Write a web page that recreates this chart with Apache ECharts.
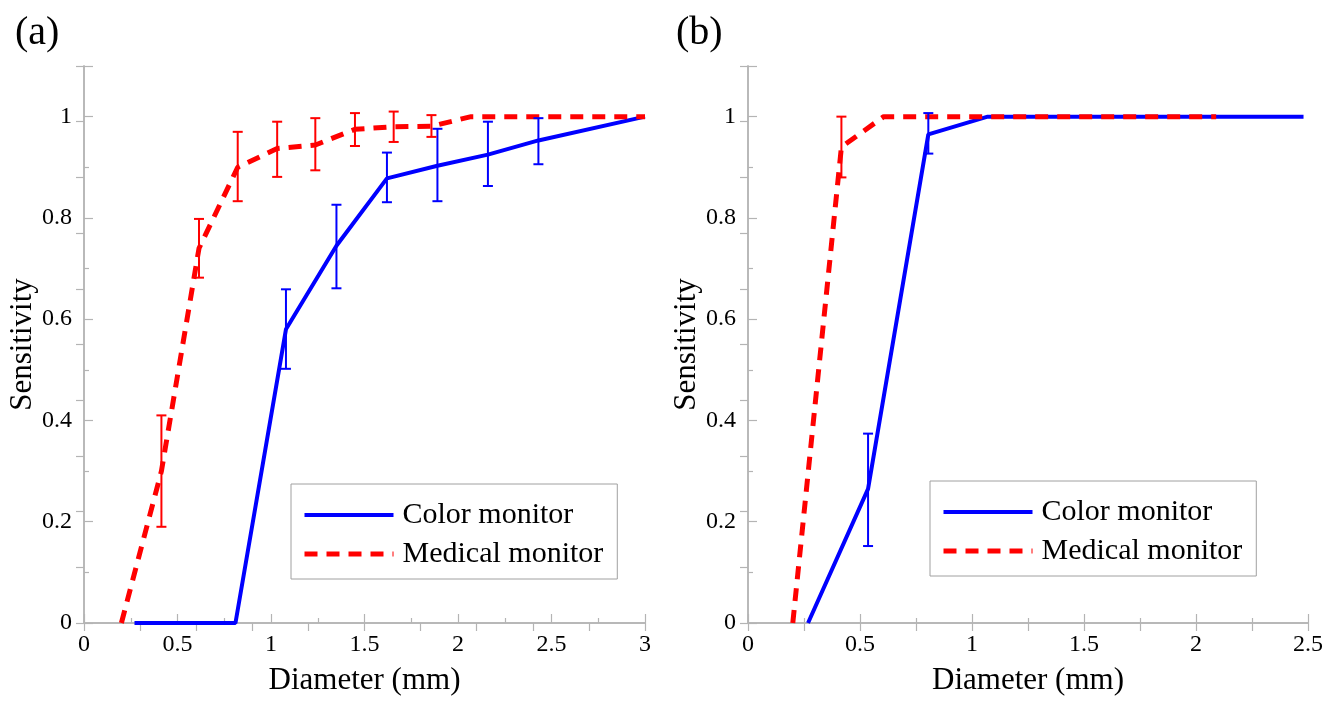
<!DOCTYPE html>
<html>
<head>
<meta charset="utf-8">
<script src="https://cdn.jsdelivr.net/npm/echarts@6/dist/echarts.min.js"></script>
<style>
html,body{margin:0;padding:0;background:#fff;}
#chart{width:1335px;height:701px;}
</style>
</head>
<body>
<div id="chart"></div>
<script>
// ---------- Data ----------
const seriesNames = ['Color monitor', 'Medical monitor'];
const panelLabels = ['(a)', '(b)'];

// Panel (a)
const colorA_x   = [0.27, 0.54, 0.81, 1.08, 1.35, 1.62, 1.89, 2.16, 2.43, 3.0];
const colorA_y   = [0, 0, 0, 0.58, 0.745, 0.878, 0.903, 0.925, 0.953, 1.0];
const colorA_lo  = [null, null, null, 0.502, 0.661, 0.831, 0.833, 0.863, 0.906, null];
const colorA_hi  = [null, null, null, 0.659, 0.826, 0.929, 0.976, 0.990, 0.997, null];

const medA_x  = [0.2, 0.414, 0.615, 0.822, 1.033, 1.237, 1.449, 1.656, 1.858, 2.07, 2.28, 2.48, 2.69, 2.9, 3.0];
const medA_y  = [0, 0.30, 0.74, 0.90, 0.937, 0.944, 0.975, 0.98, 0.981, 1, 1, 1, 1, 1, 1];
const medA_lo = [null, 0.19, 0.682, 0.833, 0.881, 0.894, 0.942, 0.95, 0.96, null, null, null, null, null, null];
const medA_hi = [null, 0.41, 0.798, 0.970, 0.990, 0.997, 1.007, 1.01, 1.003, null, null, null, null, null, null];

// Panel (b)
const colorB_x  = [0.268, 0.536, 0.805, 1.07, 2.48];
const colorB_y  = [0, 0.265, 0.965, 1, 1];
const colorB_lo = [null, 0.152, 0.927, null, null];
const colorB_hi = [null, 0.374, 1.007, null, null];

const medB_x  = [0.2, 0.417, 0.606, 0.82, 1.03, 1.24, 1.45, 1.66, 1.87, 2.09];
const medB_y  = [0, 0.94, 1, 1, 1, 1, 1, 1, 1, 1];
const medB_lo = [null, 0.88, null, null, null, null, null, null, null, null];
const medB_hi = [null, 1.0, null, null, null, null, null, null, null, null];

const xTicksA = [0, 0.5, 1, 1.5, 2, 2.5, 3];
const xTicksB = [0, 0.5, 1, 1.5, 2, 2.5];
const yTickLabels = [0, 0.2, 0.4, 0.6, 0.8, 1];

// ---------- Helpers ----------
const FONT = 'Liberation Serif, Times New Roman, serif';
const BLUE = '#0000ff', RED = '#ff0000', FRAME = '#b4b4b4';

function pairs(xs, ys) { return xs.map((x, i) => [x, ys[i]]); }
function errData(xs, lo, hi) {
  const out = [];
  xs.forEach((x, i) => { if (lo[i] != null) out.push([x, lo[i], hi[i]]); });
  return out;
}
function errRender(color) {
  return function (params, api) {
    const x = api.value(0), lo = api.value(1), hi = api.value(2);
    const p1 = api.coord([x, lo]), p2 = api.coord([x, hi]);
    const cw = 5;
    const st = { stroke: color, lineWidth: 2, fill: null };
    return { type: 'group', children: [
      { type: 'line', shape: { x1: p1[0], y1: p1[1], x2: p2[0], y2: p2[1] }, style: st },
      { type: 'line', shape: { x1: p1[0] - cw, y1: p1[1], x2: p1[0] + cw, y2: p1[1] }, style: st },
      { type: 'line', shape: { x1: p2[0] - cw, y1: p2[1], x2: p2[0] + cw, y2: p2[1] }, style: st }
    ]};
  };
}
const lineAx = { show: true, lineStyle: { color: FRAME, width: 1.5 } };
function bottomX(gi, max, ticks) {
  return {
    gridIndex: gi, type: 'value', position: 'bottom', min: 0, max: max, interval: 0.5,
    name: 'Diameter (mm)', nameLocation: 'middle', nameGap: 42,
    nameTextStyle: { fontFamily: FONT, fontSize: 31, color: '#000' },
    axisLine: lineAx,
    axisTick: { show: true, inside: true, length: 9, lineStyle: { color: FRAME, width: 1.2 } },
    minorTick: { show: true, splitNumber: 2, length: 5, lineStyle: { color: FRAME, width: 1.2 } },
    axisLabel: { fontFamily: FONT, fontSize: 24, color: '#000', margin: 10,
      formatter: v => (ticks.some(t => Math.abs(t - v) < 1e-6) ? String(v) : '') },
    splitLine: { show: false }
  };
}
function topX(gi, max, interval) {
  return {
    gridIndex: gi, type: 'value', position: 'top', min: 0, max: max, interval: interval,
    axisLine: lineAx,
    axisTick: { show: true, inside: true, length: 8, lineStyle: { color: FRAME, width: 1.2 } },
    axisLabel: { show: false }, splitLine: { show: false }
  };
}
function leftY(gi) {
  return {
    gridIndex: gi, type: 'value', position: 'left', min: 0, max: 1.1, interval: 0.2,
    name: 'Sensitivity', nameLocation: 'middle', nameGap: 41, nameRotate: 90,
    nameTextStyle: { fontFamily: FONT, fontSize: 31, color: '#000' },
    axisLine: lineAx,
    axisTick: { show: true, inside: true, length: 9, lineStyle: { color: FRAME, width: 1.2 } },
    minorTick: { show: true, splitNumber: 2, length: 5, lineStyle: { color: FRAME, width: 1.2 } },
    axisLabel: { fontFamily: FONT, fontSize: 24, color: '#000', margin: 12,
      formatter: v => (yTickLabels.some(t => Math.abs(t - v) < 1e-6) ? String(+v.toFixed(1)) : '') },
    splitLine: { show: false }
  };
}
function rightY(gi) {
  return {
    gridIndex: gi, type: 'value', position: 'right', min: 0, max: 1.1, interval: 0.11,
    axisLine: lineAx,
    axisTick: { show: true, inside: true, length: 8, lineStyle: { color: FRAME, width: 1.2 } },
    axisLabel: { show: false }, splitLine: { show: false }
  };
}
function lineSeries(name, xi, yi, xs, ys, color, dashed) {
  return {
    name: name, type: 'line', xAxisIndex: xi, yAxisIndex: yi,
    data: pairs(xs, ys), symbol: 'none', smooth: false, z: 3,
    lineStyle: dashed ? { color: color, width: 5, type: [13, 9] } : { color: color, width: 4 },
    itemStyle: { color: color }
  };
}
function errSeries(id, xi, yi, xs, lo, hi, color) {
  return {
    name: id, type: 'custom', xAxisIndex: xi, yAxisIndex: yi,
    data: errData(xs, lo, hi), renderItem: errRender(color),
    encode: { x: 0, y: [1, 2] }, z: 4, clip: false
  };
}
function legendAt(left, top) {
  return {
    data: seriesNames, orient: 'vertical', left: left, top: top,
    backgroundColor: '#fff', borderColor: '#a0a0a0', borderWidth: 1,
    padding: [16, 14, 10, 11], itemGap: 9, itemWidth: 89, itemHeight: 14,
    itemStyle: { color: 'rgba(0,0,0,0)', borderWidth: 0, borderColor: 'rgba(0,0,0,0)' },
    lineStyle: { width: 'inherit', type: 'inherit' },
    textStyle: { fontFamily: FONT, fontSize: 30, color: '#000', padding: [0, 0, 0, 4], lineHeight: 30 },
    selectedMode: false
  };
}

const chart = echarts.init(document.getElementById('chart'), null, { renderer: 'canvas' });
chart.setOption({
  animation: false,
  backgroundColor: '#fff',
  title: [
    { text: panelLabels[0], left: 10, top: 8, textStyle: { fontFamily: FONT, fontSize: 40, fontWeight: 'normal', color: '#000' } },
    { text: panelLabels[1], left: 671, top: 8, textStyle: { fontFamily: FONT, fontSize: 40, fontWeight: 'normal', color: '#000' } }
  ],
  grid: [
    { left: 84, top: 66, width: 561, height: 560 },
    { left: 748, top: 66, width: 560, height: 560 }
  ],
  xAxis: [bottomX(0, 3, xTicksA), topX(0, 3, 0.3), bottomX(1, 2.5, xTicksB), topX(1, 2.5, 0.25)],
  yAxis: [leftY(0), rightY(0), leftY(1), rightY(1)],
  legend: [legendAt(291, 484), legendAt(930, 481)],
  series: [
    lineSeries(seriesNames[0], 0, 0, colorA_x, colorA_y, BLUE, false),
    lineSeries(seriesNames[1], 0, 0, medA_x, medA_y, RED, true),
    errSeries('errColorA', 0, 0, colorA_x, colorA_lo, colorA_hi, BLUE),
    errSeries('errMedA', 0, 0, medA_x, medA_lo, medA_hi, RED),
    lineSeries(seriesNames[0], 2, 2, colorB_x, colorB_y, BLUE, false),
    lineSeries(seriesNames[1], 2, 2, medB_x, medB_y, RED, true),
    errSeries('errColorB', 2, 2, colorB_x, colorB_lo, colorB_hi, BLUE),
    errSeries('errMedB', 2, 2, medB_x, medB_lo, medB_hi, RED)
  ]
});
</script>
</body>
</html>
